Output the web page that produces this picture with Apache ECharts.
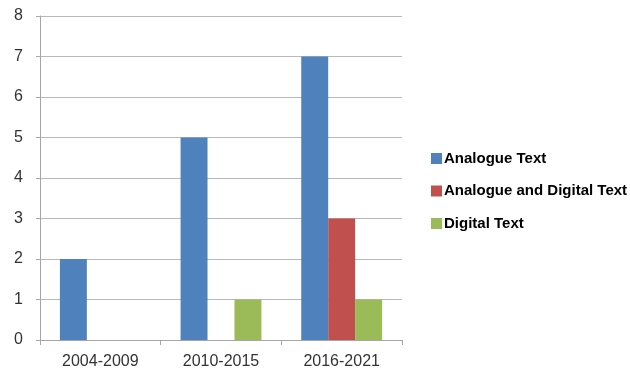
<!DOCTYPE html>
<html><head><meta charset="utf-8">
<script src="https://cdn.jsdelivr.net/npm/echarts@6/dist/echarts.min.js"></script>
<style>html,body{margin:0;padding:0;background:#fff}#c{width:630px;height:372px}</style>
</head><body><div id="c"></div>
<script>
var categories = ['2004-2009', '2010-2015', '2016-2021'];
var analogueText = [2, 5, 7];
var analogueDigitalText = [0, 0, 3];
var digitalText = [0, 1, 1];
var yTicks = [0, 1, 2, 3, 4, 5, 6, 7, 8];

var chart = echarts.init(document.getElementById('c'), null, {renderer: 'canvas'});
function bar(name, data, color) {
  return {name: name, type: 'bar', data: data, barGap: '0%', barCategoryGap: '33%',
    itemStyle: {color: color}, emphasis: {disabled: true}};
}
chart.setOption({
  animation: false,
  backgroundColor: '#fff',
  grid: {left: 40, right: 228, top: 16, bottom: 32, containLabel: false},
  legend: {
    orient: 'vertical', left: 426, top: 146, itemWidth: 11, itemHeight: 11, itemGap: 17.5,
    icon: 'rect',
    textStyle: {fontFamily: 'Liberation Sans, Arial', fontWeight: 'bold', fontSize: 15, color: '#000', padding: [0, 0, 0, -3]},
    data: ['Analogue Text', 'Analogue and Digital Text', 'Digital Text']
  },
  xAxis: {
    type: 'category', data: categories,
    axisLine: {lineStyle: {color: '#a6a6a6'}},
    axisTick: {show: true, length: 5, lineStyle: {color: '#a6a6a6'}},
    axisLabel: {fontFamily: 'Liberation Sans, Arial', fontSize: 16, color: '#333', margin: 14}
  },
  yAxis: {
    type: 'value', min: yTicks[0], max: yTicks[yTicks.length - 1], interval: 1,
    axisLine: {show: true, lineStyle: {color: '#a6a6a6'}},
    axisTick: {show: true, length: 4, lineStyle: {color: '#a6a6a6'}},
    splitLine: {lineStyle: {color: '#b8b8b8'}},
    axisLabel: {fontFamily: 'Liberation Sans, Arial', fontSize: 16, color: '#333', margin: 17}
  },
  series: [
    bar('Analogue Text', analogueText, '#4f81bd'),
    bar('Analogue and Digital Text', analogueDigitalText, '#c0504d'),
    bar('Digital Text', digitalText, '#9bbb59')
  ]
});
</script></body></html>
